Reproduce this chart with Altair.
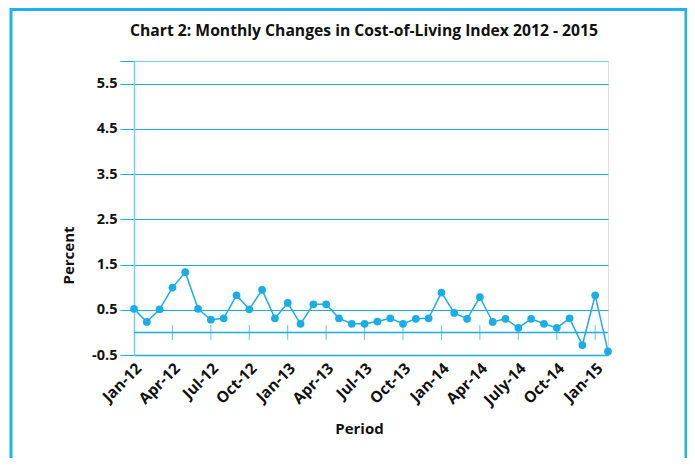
import altair as alt
import pandas as pd

# Monthly change (%), Jan-12 ... Feb-15
values = [0.52, 0.23, 0.51, 0.99, 1.33, 0.52, 0.28, 0.31, 0.82, 0.51,
          0.94, 0.31, 0.65, 0.19, 0.62, 0.62, 0.31, 0.19, 0.19, 0.24,
          0.31, 0.19, 0.30, 0.31, 0.88, 0.43, 0.30, 0.78, 0.23, 0.30,
          0.10, 0.30, 0.19, 0.10, 0.31, -0.28, 0.82, -0.42]
tick_labels = ["Jan-12", "Apr-12", "Jul-12", "Oct-12", "Jan-13", "Apr-13",
               "Jul-13", "Oct-13", "Jan-14", "Apr-14", "July-14", "Oct-14", "Jan-15"]
label_idx = [0, 3, 6, 9, 12, 15, 18, 21, 24, 27, 30, 33, 36]
minor_ticks = [3, 6, 9, 12, 15, 18, 21, 24, 27, 30, 33, 36]
y_ticks = [-0.5, 0.5, 1.5, 2.5, 3.5, 4.5, 5.5, 6.0]
title_text = "Chart 2: Monthly Changes in Cost-of-Living Index 2012 - 2015"

BLUE = "#1AADE6"
LIGHT = "#74CDF1"
FONT = "Open Sans"

df = pd.DataFrame({"idx": list(range(len(values))), "v": values})
ticks_df = pd.DataFrame({"idx": minor_ticks})
labels_df = pd.DataFrame({"idx": label_idx, "lab": tick_labels})
zero_df = pd.DataFrame({"z": [0.0]})

W, H = 474, 294

x_scale = alt.Scale(domain=[0, len(values) - 1], nice=False, zero=False)
y_scale = alt.Scale(domain=[-0.5, 6.0], nice=False, zero=False)

x_axis = alt.Axis(
    values=label_idx, labels=False,
    ticks=False, grid=False, domainColor=BLUE, domainWidth=1.5,
    title="Period", titleFont=FONT, titleFontSize=15, titleFontWeight="bold",
    titleColor="#111", titleX=225, titleY=78, titleBaseline="alphabetic",
    titleAnchor="start", titleAlign="center",
)
y_axis = alt.Axis(
    values=y_ticks,
    labelExpr="datum.value > 5.9 ? '' : '' + datum.value",
    labelFont=FONT, labelFontSize=14.5, labelFontWeight="bold", labelColor="#111",
    labelPadding=3, tickSize=14, tickColor=BLUE, tickWidth=1,
    grid=True, gridColor=alt.condition("datum.value > 5.9", alt.value(LIGHT), alt.value(BLUE)),
    gridWidth=1, gridOpacity=1,
    domainColor=LIGHT, domainWidth=1.5,
    title="Percent", titleFont=FONT, titleFontSize=15, titleFontWeight="bold",
    titleColor="#111", titleX=-61, titleY=194, titleBaseline="alphabetic",
    titleAlign="center", titleAngle=-90, labelOverlap=False,
)

base = alt.Chart(df)

line = base.mark_line(color=BLUE, strokeWidth=1.5).encode(
    x=alt.X("idx:Q", scale=x_scale, axis=x_axis),
    y=alt.Y("v:Q", scale=y_scale, axis=y_axis),
)
pts = base.mark_circle(color=BLUE, size=60, opacity=1).encode(
    x=alt.X("idx:Q", scale=x_scale),
    y=alt.Y("v:Q", scale=y_scale),
)
zero = alt.Chart(zero_df).mark_rule(color=BLUE, strokeWidth=1.5).encode(
    y=alt.Y("z:Q", scale=y_scale),
)
ticks = alt.Chart(ticks_df).mark_tick(color=BLUE, orient="vertical", size=15, thickness=1).encode(
    x=alt.X("idx:Q", scale=x_scale),
    y=alt.datum(0),
)
xlabels = alt.Chart(labels_df).mark_text(
    font=FONT, fontSize=15.5, fontWeight="bold", color="#111",
    angle=315, align="right", baseline="top",
).encode(
    x=alt.X("idx:Q", scale=x_scale),
    y=alt.value(H + 6),
    text="lab:N",
)
title = alt.Chart(pd.DataFrame({"t": [title_text]})).mark_text(
    font=FONT, fontSize=15.7, fontWeight="bold", color="#111",
    align="center", baseline="alphabetic",
).encode(text="t:N", x=alt.value(230), y=alt.value(-25))

border = alt.Chart(pd.DataFrame({"b": [1]})).mark_rect(
    fill=None, stroke="#1CB3EE", strokeWidth=3, fillOpacity=0,
).encode(x=alt.value(-123), x2=alt.value(552), y=alt.value(-51.5), y2=alt.value(430))

chart = alt.layer(border, zero, ticks, line, pts, xlabels, title).properties(
    width=W, height=H,
    autosize=alt.AutoSizeParams(type="none"),
    padding={"left": 126, "top": 53, "right": 79, "bottom": 103},
).configure_view(stroke=BLUE, strokeWidth=1).configure(background="white")

chart.save("out.html", embed_options={"renderer": "svg", "actions": False})
